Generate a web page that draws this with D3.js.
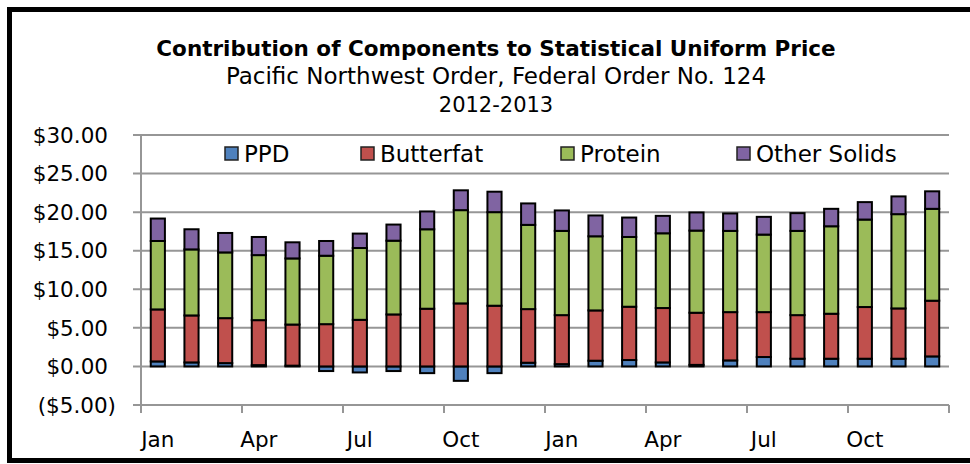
<!DOCTYPE html>
<html>
<head>
<meta charset="utf-8">
<script src="https://cdn.jsdelivr.net/npm/d3@7"></script>
<style>
  body { margin: 0; background: #fff; }
  text { font-family: "DejaVu Sans", sans-serif; fill: #000; }
</style>
</head>
<body>
<script>
// Chart data ($ per cwt)
var months = ["Jan", "Feb", "Mar", "Apr", "May", "Jun", "Jul", "Aug", "Sep", "Oct", "Nov", "Dec",
              "Jan", "Feb", "Mar", "Apr", "May", "Jun", "Jul", "Aug", "Sep", "Oct", "Nov", "Dec"];
var ppd = [0.65, 0.52, 0.43, 0.17, 0.10, -0.60, -0.78, -0.60, -0.87, -1.87, -0.87, 0.48,
           0.30, 0.74, 0.83, 0.52, 0.20, 0.78, 1.22, 1.00, 1.00, 1.00, 1.00, 1.30];
var butterfat = [6.74, 6.09, 5.83, 5.83, 5.33, 5.48, 6.04, 6.74, 7.48, 8.17, 7.87, 6.95,
                 6.35, 6.52, 6.91, 7.05, 6.76, 6.26, 5.82, 5.65, 5.83, 6.70, 6.52, 7.22];
var protein = [8.87, 8.56, 8.52, 8.43, 8.57, 8.87, 9.31, 9.56, 10.30, 12.09, 12.13, 10.92,
               10.92, 9.61, 9.04, 9.69, 10.65, 10.53, 10.05, 10.92, 11.34, 11.34, 12.22, 11.91];
var otherSolids = [2.91, 2.61, 2.52, 2.35, 2.09, 1.91, 1.87, 2.09, 2.31, 2.57, 2.65, 2.78,
                   2.65, 2.70, 2.52, 2.26, 2.35, 2.26, 2.30, 2.30, 2.26, 2.26, 2.30, 2.27];
var seriesNames = ["PPD", "Butterfat", "Protein", "Other Solids"];
var seriesColors = ["#4F81BD", "#C0504D", "#9BBB59", "#8064A2"];
var yTicks = [-5, 0, 5, 10, 15, 20, 25, 30];
var titleLines = ["Contribution of Components to Statistical Uniform Price",
                  "Pacific Northwest Order, Federal Order No. 124",
                  "2012-2013"];

var svgWidth = 970;
var svgHeight = 464;
var margin = { top: 135, right: 21, bottom: 59, left: 141 };
var width = svgWidth - margin.left - margin.right;
var height = svgHeight - margin.top - margin.bottom;

var svg = d3.select("body")
    .append("svg")
    .attr("width", svgWidth)
    .attr("height", svgHeight);

// outer frame
svg.append("rect")
    .attr("x", 9.5)
    .attr("y", 9.5)
    .attr("width", 980)
    .attr("height", 451)
    .attr("fill", "none")
    .attr("stroke", "#000")
    .attr("stroke-width", 5);

// titles
var titleY = [56, 84, 112];
var titleSize = ["21.5px", "23px", "21px"];
titleLines.forEach(function (t, i) {
    svg.append("text")
        .attr("x", 496)
        .attr("y", titleY[i])
        .attr("text-anchor", "middle")
        .style("font-size", titleSize[i])
        .style("font-weight", i == 0 ? "bold" : "normal")
        .text(t);
});

// build rows for stacking
var rows = months.map(function (m, i) {
    return { idx: i, "PPD": ppd[i], "Butterfat": butterfat[i], "Protein": protein[i], "Other Solids": otherSolids[i] };
});

var stack = d3.stack()
    .keys(seriesNames)
    .offset(d3.stackOffsetDiverging);
var stacked = stack(rows);

var chartGroup = svg.append("g")
    .attr("transform", `translate(${margin.left}, ${margin.top})`);

var xScale = d3.scaleBand()
    .domain(d3.range(months.length))
    .range([0, width])
    .paddingInner(0.58)
    .paddingOuter(0.29);

var yScale = d3.scaleLinear()
    .domain([-5, 30])
    .range([height, 0]);

// gridlines
chartGroup.append("g")
    .selectAll("line")
    .data(yTicks)
    .enter()
    .append("line")
    .attr("x1", -8)
    .attr("x2", width)
    .attr("y1", d => yScale(d))
    .attr("y2", d => yScale(d))
    .attr("stroke", "#969696")
    .attr("stroke-width", 2);

// y axis line
chartGroup.append("line")
    .attr("x1", 0).attr("x2", 0)
    .attr("y1", 0).attr("y2", height)
    .attr("stroke", "#969696")
    .attr("stroke-width", 2);

// y tick labels
var fmt = d3.format(".2f");
chartGroup.append("g")
    .selectAll("text")
    .data(yTicks)
    .enter()
    .append("text")
    .attr("x", d => d < 0 ? -25 : -33)
    .attr("y", d => yScale(d))
    .attr("dy", "0.36em")
    .attr("text-anchor", "end")
    .style("font-size", "21.5px")
    .text(d => d < 0 ? "($" + fmt(-d) + ")" : "$" + fmt(d));

// x axis ticks every 3 months, between categories
var step = xScale.step();
var xTickIdx = d3.range(0, months.length + 1, 3);
chartGroup.append("g")
    .selectAll("line")
    .data(xTickIdx)
    .enter()
    .append("line")
    .attr("x1", d => d * step)
    .attr("x2", d => d * step)
    .attr("y1", height)
    .attr("y2", height + 8)
    .attr("stroke", "#969696")
    .attr("stroke-width", 2);

chartGroup.append("g")
    .selectAll("text")
    .data(d3.range(0, months.length, 3))
    .enter()
    .append("text")
    .attr("x", d => xScale(d) + xScale.bandwidth() / 2)
    .attr("y", height + 42)
    .attr("text-anchor", "middle")
    .style("font-size", "21.5px")
    .text(d => months[d]);

// stacked bars
var layers = chartGroup.selectAll("g.layer")
    .data(stacked)
    .enter()
    .append("g")
    .attr("class", "layer")
    .attr("fill", (d, i) => seriesColors[i]);

layers.selectAll("rect")
    .data(d => d)
    .enter()
    .append("rect")
    .attr("x", d => xScale(d.data.idx))
    .attr("width", xScale.bandwidth())
    .attr("y", d => yScale(Math.max(d[0], d[1])))
    .attr("height", d => Math.abs(yScale(d[0]) - yScale(d[1])))
    .attr("stroke", "#000")
    .attr("stroke-width", 2);

// legend
var legendX = [225, 361, 561, 737];
var legend = svg.append("g");
seriesNames.forEach(function (name, i) {
    legend.append("rect")
        .attr("x", legendX[i])
        .attr("y", 147)
        .attr("width", 13)
        .attr("height", 13)
        .attr("fill", seriesColors[i])
        .attr("stroke", "#222")
        .attr("stroke-width", 1.5);
    legend.append("text")
        .attr("x", legendX[i] + 19)
        .attr("y", 154)
        .attr("dy", "0.36em")
        .style("font-size", "23px")
        .text(name);
});
</script>
</body>
</html>
